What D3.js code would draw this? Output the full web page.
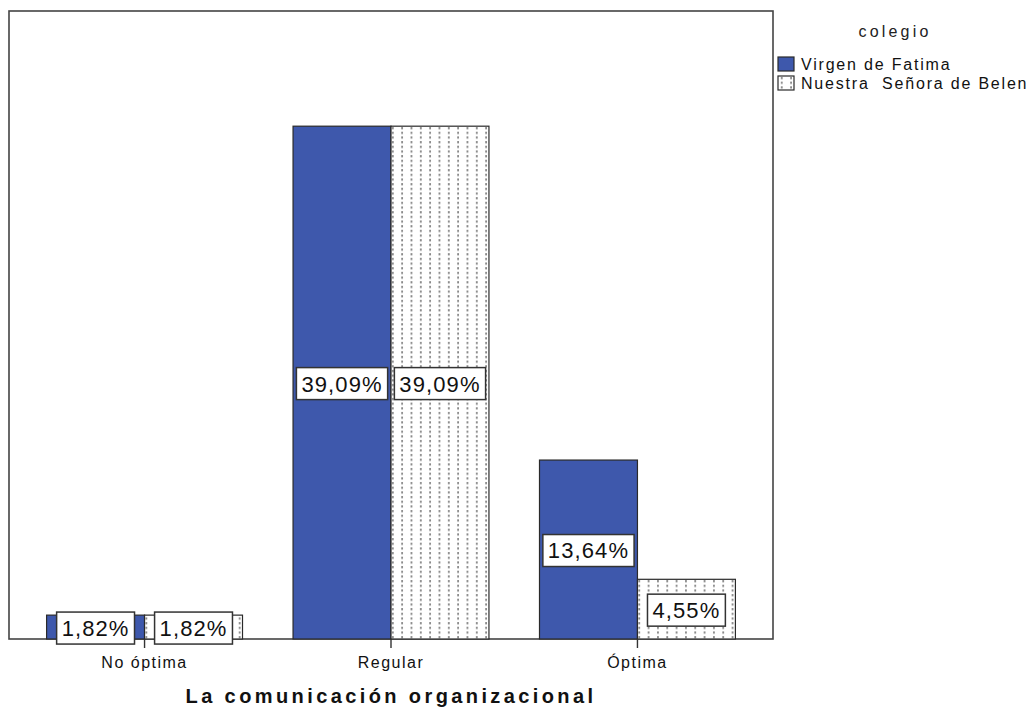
<!DOCTYPE html>
<html>
<head>
<meta charset="utf-8">
<script src="https://cdn.jsdelivr.net/npm/d3@7"></script>
<style>
  html, body { margin: 0; padding: 0; background: #fff; }
  svg { display: block; font-family: "Liberation Sans", Arial, sans-serif; }
</style>
</head>
<body>
<svg id="chart" width="1035" height="709"></svg>
<script>
// Percentages by category, one array per school
const categories = ["No óptima", "Regular", "Óptima"];
const seriesNames = ["Virgen de Fatima", "Nuestra  Señora de Belen"];
const virgenFatima = [1.82, 39.09, 13.64];
const senoraBelen = [1.82, 39.09, 4.55];
const legendTitle = "colegio";
const axisTitle = "La comunicación organizacional";

const rows = categories.map((c, i) => ({
  category: c,
  values: [
    { series: seriesNames[0], value: virgenFatima[i] },
    { series: seriesNames[1], value: senoraBelen[i] }
  ]
}));

const svg = d3.select("#chart");
const plot = { left: 9, right: 773, top: 11, bottom: 639 };
const blue = "#3e58ac";
const edge = "#2a2a2a";

// dotted fill for the second school
const defs = svg.append("defs");
const pat = defs.append("pattern")
  .attr("id", "dots")
  .attr("patternUnits", "userSpaceOnUse")
  .attr("width", 9.33).attr("height", 4.67);
pat.append("rect").attr("width", 9.33).attr("height", 4.67).attr("fill", "#fff");
pat.append("rect").attr("x", 3).attr("y", 1).attr("width", 1.5).attr("height", 2.2).attr("fill", "#6e6e6e");

const x0 = d3.scaleBand()
  .domain(categories)
  .range([plot.left, plot.right])
  .paddingInner(0)
  .paddingOuter(0.05);

const x1 = d3.scaleBand()
  .domain(seriesNames)
  .range([0, x0.bandwidth()])
  .paddingInner(0)
  .paddingOuter(0.258);

const y = d3.scaleLinear()
  .domain([0, 47.87])
  .range([plot.bottom, plot.top]);

const fills = d3.scaleOrdinal().domain(seriesNames).range([blue, "url(#dots)"]);
const fmt = v => d3.format(".2f")(v).replace(".", ",") + "%";

// plot frame
svg.append("rect")
  .attr("x", plot.left).attr("y", plot.top)
  .attr("width", plot.right - plot.left).attr("height", plot.bottom - plot.top)
  .attr("fill", "#fff").attr("stroke", "#444").attr("stroke-width", 1.6);

// bars
const groups = svg.append("g").selectAll("g")
  .data(rows).join("g")
  .attr("transform", d => `translate(${x0(d.category)},0)`);

groups.selectAll("rect")
  .data(d => d.values).join("rect")
  .attr("x", d => x1(d.series))
  .attr("y", d => y(d.value))
  .attr("width", x1.bandwidth())
  .attr("height", d => y(0) - y(d.value))
  .attr("fill", d => fills(d.series))
  .attr("stroke", edge).attr("stroke-width", 1.2);

// x axis: baseline with ticks below it
const xAxis = d3.axisBottom(x0).tickSize(9).tickPadding(5).tickSizeOuter(0);
const ax = svg.append("g")
  .attr("transform", `translate(0,${plot.bottom})`)
  .call(xAxis);
ax.select(".domain").remove();
ax.selectAll(".tick line").attr("stroke", "#333").attr("stroke-width", 1.4);
ax.selectAll(".tick text")
  .attr("font-size", 16).attr("fill", "#111")
  .attr("font-family", "Liberation Sans, Arial, sans-serif")
  .attr("letter-spacing", 1.5)
  .attr("dy", "0.95em");

// value labels in boxes at bar mid-height
const labels = groups.selectAll("g.lab")
  .data(d => d.values).join("g")
  .attr("class", "lab")
  .attr("transform", d => `translate(${x1(d.series) + x1.bandwidth() / 2},${(y(d.value) + y(0)) / 2 + 1})`);

labels.append("rect").attr("class", "box");
labels.append("text")
  .attr("text-anchor", "middle")
  .attr("dy", "0.36em")
  .attr("font-size", 22)
  .attr("letter-spacing", 1.1)
  .attr("fill", "#111")
  .text(d => fmt(d.value));
labels.each(function () {
  const g = d3.select(this);
  const w = g.select("text").node().getComputedTextLength() + 10;
  g.select("rect.box")
    .attr("x", -w / 2).attr("y", -16)
    .attr("width", w).attr("height", 32)
    .attr("fill", "#fff").attr("stroke", "#333").attr("stroke-width", 1.5);
});

// axis title
svg.append("text")
  .attr("x", (plot.left + plot.right) / 2)
  .attr("y", 703)
  .attr("text-anchor", "middle")
  .attr("font-size", 20).attr("font-weight", "bold")
  .attr("letter-spacing", 3.4)
  .attr("fill", "#111")
  .text(axisTitle);

// legend
const legend = svg.append("g");
legend.append("text")
  .attr("x", 895).attr("y", 37)
  .attr("text-anchor", "middle")
  .attr("font-size", 16).attr("letter-spacing", 3.2)
  .attr("fill", "#222")
  .text(legendTitle);

const items = legend.selectAll("g.item")
  .data(seriesNames).join("g")
  .attr("class", "item")
  .attr("transform", (d, i) => `translate(778,${57 + i * 19})`);
items.append("rect")
  .attr("width", 16).attr("height", 14)
  .attr("fill", d => fills(d))
  .attr("stroke", edge).attr("stroke-width", 1.2);
items.append("text")
  .attr("x", 23).attr("y", 13)
  .attr("font-size", 16).attr("letter-spacing", 1.8)
  .attr("fill", "#111")
  .style("white-space", "pre")
  .text(d => d);
</script>
</body>
</html>
